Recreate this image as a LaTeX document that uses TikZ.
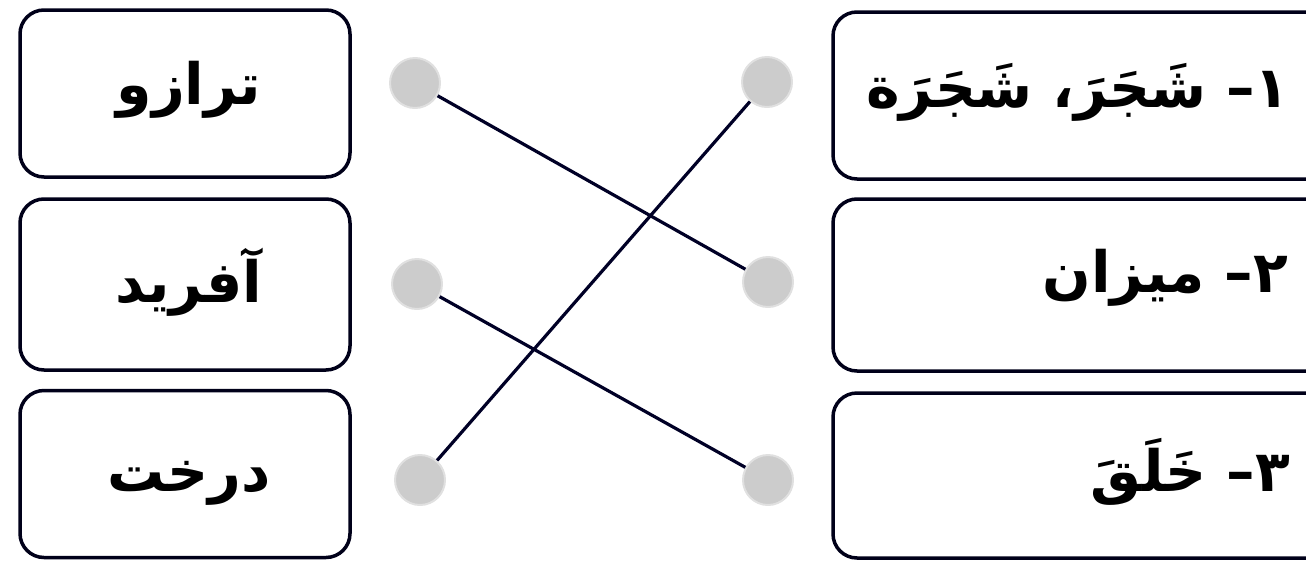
\documentclass[tikz,border=0pt]{standalone}
\usepackage{fontspec}
\newfontfamily\arabicfont[Script=Arabic]{DejaVu Sans}
\TeXXeTstate=1
\begin{document}
\begin{tikzpicture}[x=1pt,y=-1pt,
  card/.style={draw=black!90!blue, line width=3.5pt, rounded corners=24pt, inner sep=0pt},
  dotnode/.style={circle, fill=black!20, draw=black!12, line width=2pt, minimum size=50pt, inner sep=0pt},
  link/.style={draw=black!85!blue, line width=3.2pt},
  word/.style={font=\arabicfont\bfseries\fontsize{57}{64}\selectfont, inner sep=0pt}]
\useasboundingbox (0,0) rectangle (1306,560);
\clip (0,0) rectangle (1306,560);
% left cards
\node[card, minimum width=330pt, minimum height=167pt] (L1) at (185,93.5) {};
\node[card, minimum width=330pt, minimum height=171pt] (L2) at (185,284.5) {};
\node[card, minimum width=330pt, minimum height=167pt] (L3) at (185,474) {};
% right cards (cut by the right edge)
\node[card, minimum width=500pt, minimum height=167pt] (R1) at (1083,95.5) {};
\node[card, minimum width=500pt, minimum height=172pt] (R2) at (1083,285) {};
\node[card, minimum width=500pt, minimum height=165pt] (R3) at (1083,475.5) {};
% texts
\node[word] (tL1) at (189,90) {\beginR ترازو\endR};
\node[word] (tL2) at (189,282) {\beginR آفرید\endR};
\node[word] (tL3) at (189,483) {\beginR درخت\endR};
\node[word, anchor=east] (tR1) at (1290,92) {\beginR ١– شَجَرَ، شَجَرَة\endR};
\node[word, anchor=east] (tR2) at (1288,278) {\beginR ٢– میزان\endR};
\node[word, anchor=east] (tR3) at (1290,472) {\beginR ٣– خَلَقَ\endR};
% dots
\node[dotnode] (a1) at (415,83) {};
\node[dotnode] (a2) at (417,284) {};
\node[dotnode] (a3) at (420,480) {};
\node[dotnode] (b1) at (767,82) {};
\node[dotnode] (b2) at (768,282) {};
\node[dotnode] (b3) at (768,480) {};
% connectors
\draw[link] (a1) -- (b2);
\draw[link] (b1) -- (a3);
\draw[link] (a2) -- (b3);
\end{tikzpicture}
\end{document}
